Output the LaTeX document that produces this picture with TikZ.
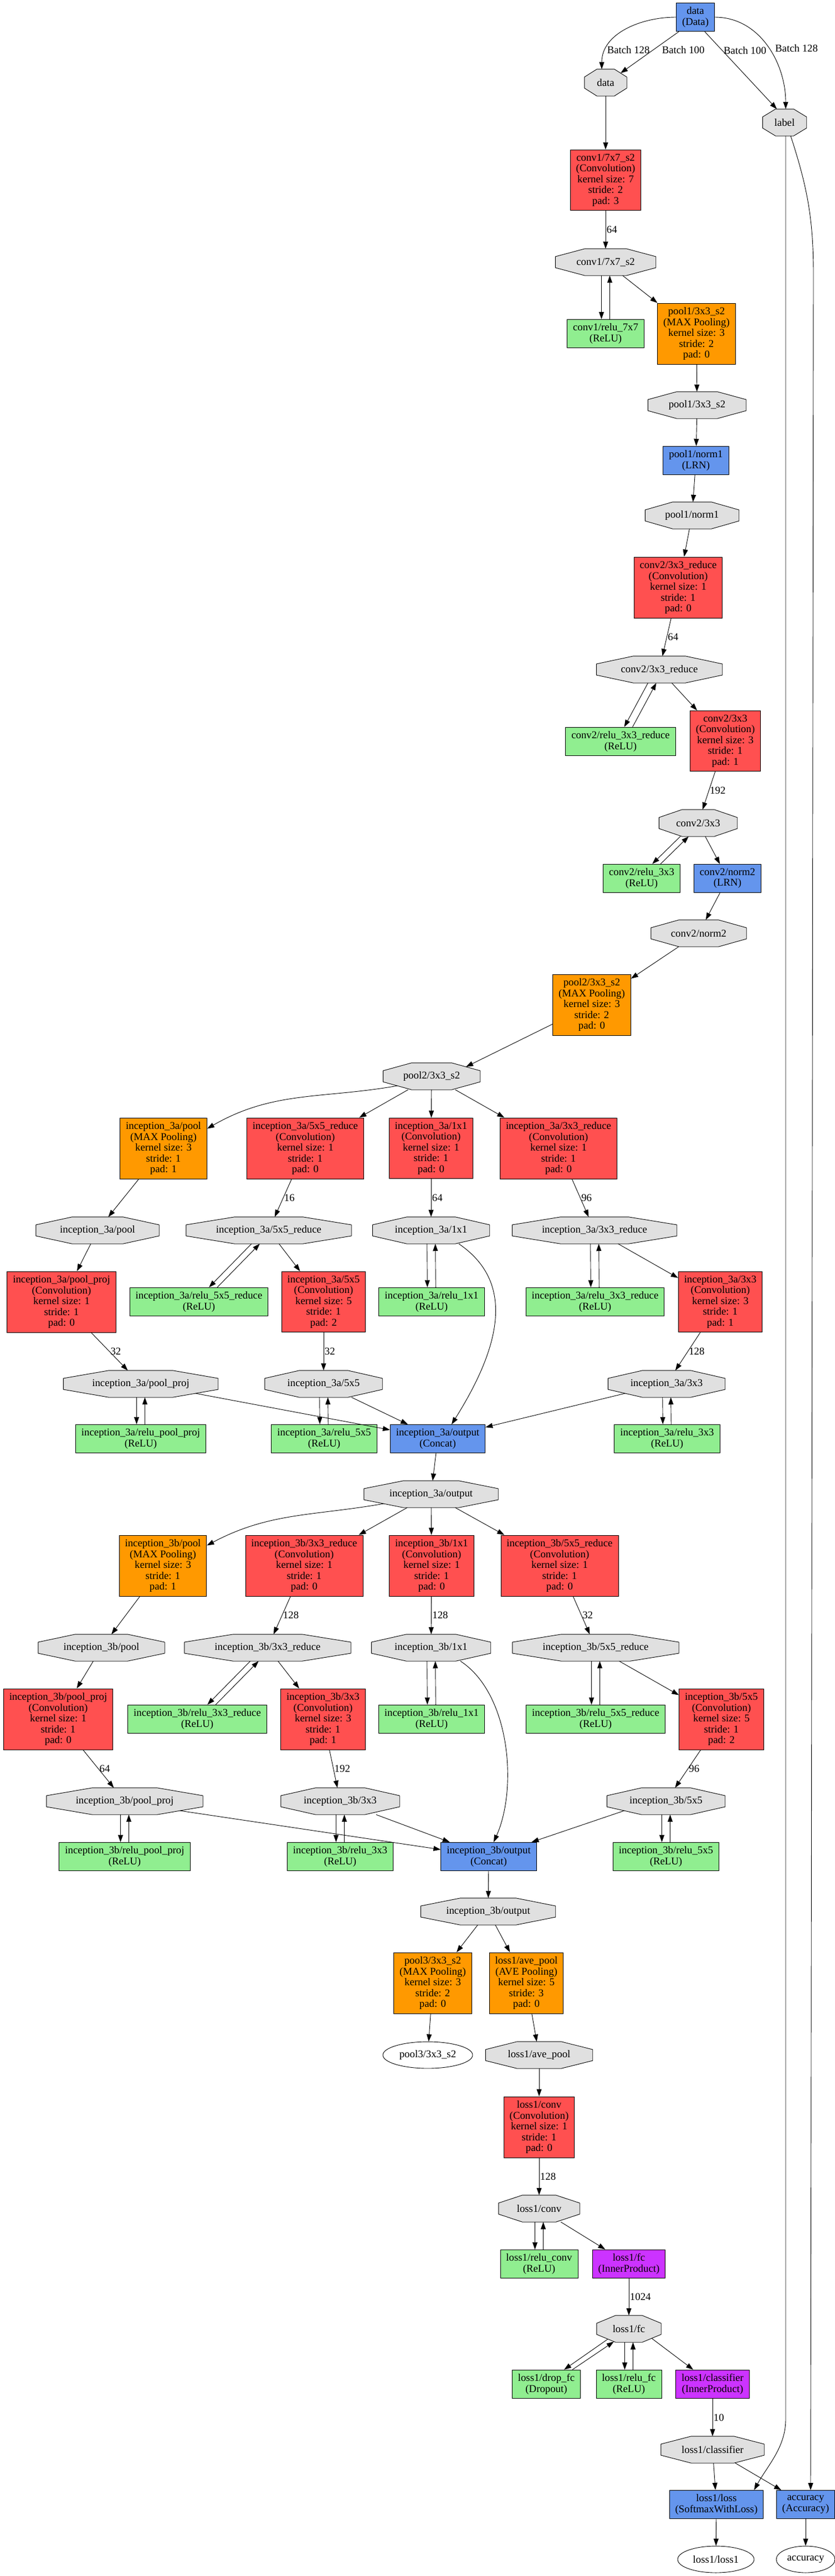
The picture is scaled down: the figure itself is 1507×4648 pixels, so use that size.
\documentclass[tikz,border=0pt]{standalone}
\usepackage{fontspec}
\setmainfont{Liberation Serif}
\usetikzlibrary{arrows.meta,calc,shapes.geometric,backgrounds}
\definecolor{convred}{HTML}{FF5050}
\definecolor{poolorange}{HTML}{FF9900}
\definecolor{fcpurple}{HTML}{CC33FF}
\definecolor{layerblue}{HTML}{6495ED}
\definecolor{relugreen}{HTML}{90EE90}
\definecolor{blobgray}{HTML}{E0E0E0}
\tikzset{>={Triangle[length=13pt,width=9pt]}}
\tikzset{
  netbox/.style = {draw, line width=0.9pt, align=center, inner xsep=10.5pt, inner ysep=7.5pt, minimum height=51pt},
  convbox/.style = {netbox, fill=convred},
  poolbox/.style = {netbox, fill=poolorange},
  relubox/.style = {netbox, fill=relugreen},
  plainbox/.style = {netbox, fill=layerblue},
  fcbox/.style = {netbox, fill=fcpurple},
  blob/.style = {minimum width=#1pt, minimum height=48pt, inner sep=1pt},
  sink/.style = {ellipse, draw, line width=0.9pt, minimum width=#1pt, minimum height=48pt, inner sep=1pt},
  octa/.style = {draw, fill=blobgray, line width=0.9pt},
  flow/.style = {->, line width=0.9pt},
  pairdown/.style = {flow, transform canvas={xshift=-7.5pt}},
  pairup/.style = {flow, transform canvas={xshift=7.5pt}},
  lbl/.style = {midway, right, inner sep=1.5pt}
}

\begin{document}
\begin{tikzpicture}[x=1pt, y=-1pt, font=\fontsize{18.8}{19.5}\selectfont]
  \useasboundingbox (0,0) rectangle (1507,4648);

  \node[plainbox] (dataL) at (1255,31) {data\\(Data)};
  \node[blob=76] (data) at (1093,149) {data};
  \node[blob=79] (label) at (1416,221) {label};
  \node[convbox] (conv1) at (1093,325) {conv1/7x7\_s2\\(Convolution)\\kernel size: 7\\stride: 2\\pad: 3};
  \node[blob=181] (conv1b) at (1093,473) {conv1/7x7\_s2};
  \node[relubox] (relu1) at (1093,602) {conv1/relu\_7x7\\(ReLU)};
  \node[poolbox] (pool1) at (1257,602) {pool1/3x3\_s2\\(MAX Pooling)\\kernel size: 3\\stride: 2\\pad: 0};
  \node[blob=177] (pool1b) at (1258,731) {pool1/3x3\_s2};
  \node[plainbox] (norm1) at (1256,831) {pool1/norm1\\(LRN)};
  \node[blob=169] (norm1b) at (1249,930) {pool1/norm1};
  \node[convbox] (conv2r) at (1224,1060) {conv2/3x3\_reduce\\(Convolution)\\kernel size: 1\\stride: 1\\pad: 0};
  \node[blob=227] (conv2rb) at (1190,1208) {conv2/3x3\_reduce};
  \node[relubox] (relu2r) at (1120,1338) {conv2/relu\_3x3\_reduce\\(ReLU)};
  \node[convbox] (conv2) at (1309,1337) {conv2/3x3\\(Convolution)\\kernel size: 3\\stride: 1\\pad: 1};
  \node[blob=141] (conv2b) at (1260,1485) {conv2/3x3};
  \node[relubox] (relu2) at (1158,1585) {conv2/relu\_3x3\\(ReLU)};
  \node[plainbox] (norm2) at (1313,1585) {conv2/norm2\\(LRN)};
  \node[blob=172] (norm2b) at (1261,1684) {conv2/norm2};
  \node[poolbox] (pool2) at (1068,1813) {pool2/3x3\_s2\\(MAX Pooling)\\kernel size: 3\\stride: 2\\pad: 0};
  \node[blob=175] (pool2b) at (779,1942) {pool2/3x3\_s2};

  \node[poolbox] (iapool) at (295,2072) {inception\_3a/pool\\(MAX Pooling)\\kernel size: 3\\stride: 1\\pad: 1};
  \node[convbox] (iar5) at (551,2072) {inception\_3a/5x5\_reduce\\(Convolution)\\kernel size: 1\\stride: 1\\pad: 0};
  \node[convbox] (iac1) at (778,2072) {inception\_3a/1x1\\(Convolution)\\kernel size: 1\\stride: 1\\pad: 0};
  \node[convbox] (iar3) at (1008,2072) {inception\_3a/3x3\_reduce\\(Convolution)\\kernel size: 1\\stride: 1\\pad: 0};
  \node[blob=222] (iapoolb) at (176,2220) {inception\_3a/pool};
  \node[blob=298] (iar5b) at (485,2220) {inception\_3a/5x5\_reduce};
  \node[blob=211] (iac1b) at (778,2220) {inception\_3a/1x1};
  \node[blob=297] (iar3b) at (1073,2220) {inception\_3a/3x3\_reduce};
  \node[convbox] (iapp) at (111,2349) {inception\_3a/pool\_proj\\(Convolution)\\kernel size: 1\\stride: 1\\pad: 0};
  \node[relubox] (iarelur5) at (359,2349) {inception\_3a/relu\_5x5\_reduce\\(ReLU)};
  \node[convbox] (iac5) at (584,2349) {inception\_3a/5x5\\(Convolution)\\kernel size: 5\\stride: 1\\pad: 2};
  \node[relubox] (iarelu1) at (779,2349) {inception\_3a/relu\_1x1\\(ReLU)};
  \node[relubox] (iarelur3) at (1074,2349) {inception\_3a/relu\_3x3\_reduce\\(ReLU)};
  \node[convbox] (iac3) at (1300,2349) {inception\_3a/3x3\\(Convolution)\\kernel size: 3\\stride: 1\\pad: 1};
  \node[blob=279] (iappb) at (254,2497) {inception\_3a/pool\_proj};
  \node[blob=212] (iac5b) at (584,2497) {inception\_3a/5x5};
  \node[blob=211] (iac3b) at (1203,2497) {inception\_3a/3x3};
  \node[relubox] (iarelupp) at (254,2596) {inception\_3a/relu\_pool\_proj\\(ReLU)};
  \node[relubox] (iarelu5) at (585,2596) {inception\_3a/relu\_5x5\\(ReLU)};
  \node[plainbox] (iaout) at (790,2596) {inception\_3a/output\\(Concat)};
  \node[relubox] (iarelu3) at (1204,2596) {inception\_3a/relu\_3x3\\(ReLU)};
  \node[blob=242] (iaoutb) at (778,2696) {inception\_3a/output};

  \node[poolbox] (ibpool) at (294,2825) {inception\_3b/pool\\(MAX Pooling)\\kernel size: 3\\stride: 1\\pad: 1};
  \node[convbox] (ibr3) at (549,2825) {inception\_3b/3x3\_reduce\\(Convolution)\\kernel size: 1\\stride: 1\\pad: 0};
  \node[convbox] (ibc1) at (779,2825) {inception\_3b/1x1\\(Convolution)\\kernel size: 1\\stride: 1\\pad: 0};
  \node[convbox] (ibr5) at (1010,2825) {inception\_3b/5x5\_reduce\\(Convolution)\\kernel size: 1\\stride: 1\\pad: 0};
  \node[blob=228] (ibpoolb) at (183,2973) {inception\_3b/pool};
  \node[blob=300] (ibr3b) at (483,2973) {inception\_3b/3x3\_reduce};
  \node[blob=215] (ibc1b) at (778,2973) {inception\_3b/1x1};
  \node[blob=300] (ibr5b) at (1075,2973) {inception\_3b/5x5\_reduce};
  \node[convbox] (ibpp) at (105,3102) {inception\_3b/pool\_proj\\(Convolution)\\kernel size: 1\\stride: 1\\pad: 0};
  \node[relubox] (ibrelur3) at (356,3102) {inception\_3b/relu\_3x3\_reduce\\(ReLU)};
  \node[convbox] (ibc3) at (583,3102) {inception\_3b/3x3\\(Convolution)\\kernel size: 3\\stride: 1\\pad: 1};
  \node[relubox] (ibrelu1) at (779,3102) {inception\_3b/relu\_1x1\\(ReLU)};
  \node[relubox] (ibrelur5) at (1075,3102) {inception\_3b/relu\_5x5\_reduce\\(ReLU)};
  \node[convbox] (ibc5) at (1302,3102) {inception\_3b/5x5\\(Convolution)\\kernel size: 5\\stride: 1\\pad: 2};
  \node[blob=282] (ibppb) at (225,3250) {inception\_3b/pool\_proj};
  \node[blob=214] (ibc3b) at (614,3250) {inception\_3b/3x3};
  \node[blob=213] (ibc5b) at (1202,3250) {inception\_3b/5x5};
  \node[relubox] (ibrelupp) at (225,3350) {inception\_3b/relu\_pool\_proj\\(ReLU)};
  \node[relubox] (ibrelu3) at (614,3350) {inception\_3b/relu\_3x3\\(ReLU)};
  \node[plainbox] (ibout) at (882,3350) {inception\_3b/output\\(Concat)};
  \node[relubox] (ibrelu5) at (1202,3350) {inception\_3b/relu\_5x5\\(ReLU)};
  \node[blob=243] (iboutb) at (881,3449) {inception\_3b/output};

  \node[poolbox] (pool3) at (781,3578) {pool3/3x3\_s2\\(MAX Pooling)\\kernel size: 3\\stride: 2\\pad: 0};
  \node[poolbox] (avep) at (950,3578) {loss1/ave\_pool\\(AVE Pooling)\\kernel size: 5\\stride: 3\\pad: 0};
  \node[sink=162] (pool3e) at (772,3708) {pool3/3x3\_s2};
  \node[blob=193] (avepb) at (973,3708) {loss1/ave\_pool};
  \node[convbox] (lconv) at (973,3838) {loss1/conv\\(Convolution)\\kernel size: 1\\stride: 1\\pad: 0};
  \node[blob=146] (lconvb) at (973,3985) {loss1/conv};
  \node[relubox] (lrelu) at (973,4085) {loss1/relu\_conv\\(ReLU)};
  \node[fcbox] (lfc) at (1135,4085) {loss1/fc\\(InnerProduct)};
  \node[blob=116] (lfcb) at (1135,4202) {loss1/fc};
  \node[relubox] (ldrop) at (986,4302) {loss1/drop\_fc\\(Dropout)};
  \node[relubox] (lrelufc) at (1135,4302) {loss1/relu\_fc\\(ReLU)};
  \node[fcbox] (lcls) at (1286,4302) {loss1/classifier\\(InnerProduct)};
  \node[blob=186] (lclsb) at (1286,4420) {loss1/classifier};
  \node[plainbox] (lloss) at (1293,4519) {loss1/loss\\(SoftmaxWithLoss)};
  \node[plainbox] (acc) at (1454,4519) {accuracy\\(Accuracy)};
  \node[sink=138] (llosse) at (1292,4618) {loss1/loss1};
  \node[sink=106] (acce) at (1454,4618) {accuracy};

  \begin{scope}[on background layer]
    \foreach \blobname in {data,label,conv1b,pool1b,norm1b,conv2rb,conv2b,norm2b,pool2b,
        iapoolb,iar5b,iac1b,iar3b,iappb,iac5b,iac3b,iaoutb,
        ibpoolb,ibr3b,ibc1b,ibr5b,ibppb,ibc3b,ibc5b,iboutb,
        avepb,lconvb,lfcb,lclsb} {
      \draw[octa] ($(\blobname.north west)!0.293!(\blobname.north east)$)
        -- ($(\blobname.north west)!0.707!(\blobname.north east)$)
        -- ($(\blobname.north east)!0.293!(\blobname.south east)$)
        -- ($(\blobname.north east)!0.707!(\blobname.south east)$)
        -- ($(\blobname.south east)!0.293!(\blobname.south west)$)
        -- ($(\blobname.south east)!0.707!(\blobname.south west)$)
        -- ($(\blobname.south west)!0.293!(\blobname.north west)$)
        -- ($(\blobname.south west)!0.707!(\blobname.north west)$) -- cycle;
      \coordinate (\blobname-sw) at ($(\blobname.south west)!0.293!(\blobname.center)$);
      \coordinate (\blobname-se) at ($(\blobname.south east)!0.293!(\blobname.center)$);
      \coordinate (\blobname-ne) at ($(\blobname.north east)!0.293!(\blobname.center)$);
    }
  \end{scope}

  \draw[flow] (dataL.west) to[out=180,in=90] node[lbl,pos=0.8] {Batch 128} ([xshift=-7pt]data.north);
  \draw[flow] ([xshift=-30pt]dataL.south) -- node[lbl,pos=0.44,right=14pt] {Batch 100} (data-ne);
  \draw[flow] ([xshift=17pt]dataL.south) -- node[lbl,pos=0.24,right=1pt] {Batch 100} ([xshift=-14pt]label.north);
  \draw[flow] (dataL.east) to[out=0,in=90] node[lbl,pos=0.52,right=10pt] {Batch 128} ([xshift=2pt]label.north);

  \foreach \src/\dst in {data/conv1, conv1b/pool1, pool1/pool1b, pool1b/norm1, norm1/norm1b,
      norm1b/conv2r, conv2rb/conv2, conv2b/norm2, norm2/norm2b, norm2b/pool2, pool2/pool2b-ne,
      pool2b/iar5, pool2b/iac1, pool2b/iar3, iapool/iapoolb, iapoolb/iapp, iar5b/iac5, iar3b/iac3,
      iappb-se/iaout, iac5b/iaout, iac3b-sw/iaout, iaout/iaoutb,
      iaoutb/ibr3, iaoutb/ibc1, iaoutb/ibr5, ibpool/ibpoolb, ibpoolb/ibpp, ibr3b/ibc3, ibr5b/ibc5,
      ibppb-se/ibout, ibc3b/ibout, ibc5b-sw/ibout, ibout/iboutb,
      iboutb/pool3, iboutb/avep, pool3/pool3e, avep/avepb, avepb/lconv, lconvb/lfc, lfcb-se/lcls,
      lclsb/lloss, lclsb/acc, lloss/llosse, acc/acce}
    \draw[flow] (\src) -- (\dst);

  \foreach \src/\dst/\num in {conv1/conv1b/64, conv2r/conv2rb/64, conv2/conv2b/192,
      iar5/iar5b/16, iac1/iac1b/64, iar3/iar3b/96, iapp/iappb/32, iac5/iac5b/32, iac3/iac3b/128,
      ibr3/ibr3b/128, ibc1/ibc1b/128, ibr5/ibr5b/32, ibpp/ibppb/64, ibc3/ibc3b/192, ibc5/ibc5b/96,
      lconv/lconvb/128, lfc/lfcb/1024, lcls/lclsb/10}
    \draw[flow] (\src) -- node[lbl] {\num} (\dst);

  \foreach \src/\dst in {conv1b/relu1, conv2rb/relu2r, conv2b/relu2,
      iar5b/iarelur5, iac1b/iarelu1, iar3b/iarelur3, iappb/iarelupp, iac5b/iarelu5, iac3b/iarelu3,
      ibr3b/ibrelur3, ibc1b/ibrelu1, ibr5b/ibrelur5, ibppb/ibrelupp, ibc3b/ibrelu3, ibc5b/ibrelu5,
      lconvb/lrelu, lfcb/lrelufc} {
    \draw[pairdown] (\src) -- (\dst);
    \draw[pairup] (\dst) -- (\src);
  }
  \draw[flow] ($(lfcb-sw)+(3,1.5)$) -- ([xshift=32pt]ldrop.north);
  \draw[flow] ([xshift=47pt]ldrop.north) -- ($(lfcb-sw)+(14,6)$);

  \draw[flow] (pool2b-sw) to[out=190,in=30] ([yshift=-20pt]iapool.north east);
  \draw[flow] (iaoutb-sw) to[out=190,in=28] ([yshift=-19pt]ibpool.north east);
  \draw[flow] ([xshift=50pt]iac1b.south) .. controls +(97,66) and +(95,-151) .. ([xshift=25pt]iaout.north);
  \draw[flow] ([xshift=53pt]ibc1b.south) .. controls +(89,58) and +(44,-99) .. ([xshift=9pt]ibout.north);

  \draw[flow] ([xshift=2pt]label.south) -- ++(0,4120) .. controls +(0,50) and +(25,-45) .. ([xshift=68pt]lloss.north);
  \draw[flow] ([xshift=11pt]label.south) to[out=-72,in=90] ++(41,250) -- ([xshift=9pt]acc.north);
\end{tikzpicture}
\end{document}
